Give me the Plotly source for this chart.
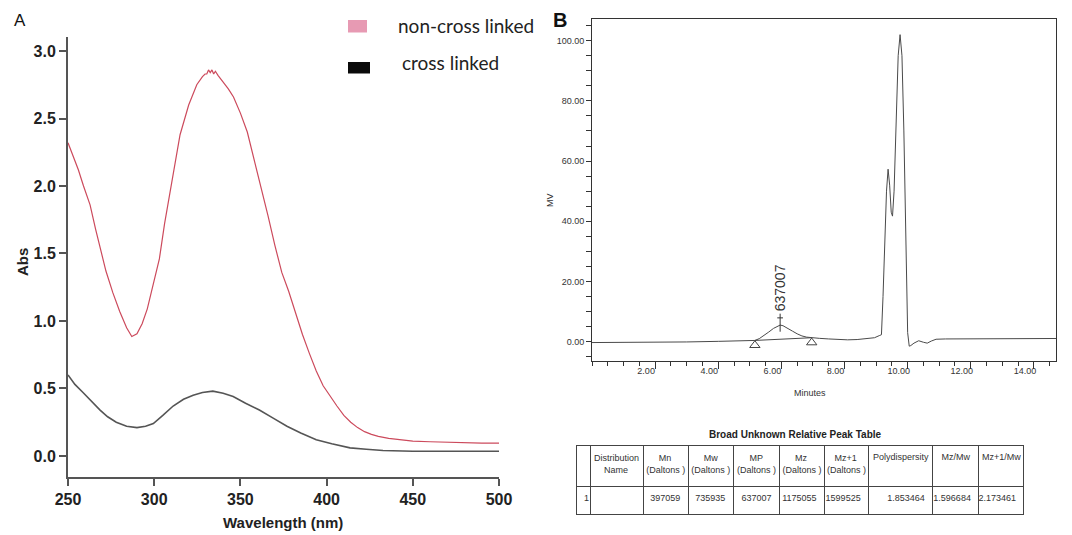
import plotly.graph_objects as go

W, H = 1072, 535

# ---------------- Panel A data (UV-Vis) ----------------
wl_noncross = [250, 253, 256, 259, 262.8, 266, 268.6, 272, 276, 280, 284, 287, 290, 293, 296, 300,
               303, 306, 310, 315, 320, 324.7, 328, 329.5, 330.5, 331.5, 332.5, 333.5, 334.5, 335.5,
               337, 340, 343, 346, 350, 354, 358, 362, 366, 370, 374, 378, 382, 386, 390, 394, 398,
               402, 406, 410, 414, 418, 422, 426, 430, 436, 442, 450, 460, 470, 480, 490, 500]
abs_noncross = [2.32, 2.22, 2.12, 2.00, 1.86, 1.68, 1.55, 1.37, 1.21, 1.07, 0.95, 0.885, 0.905, 0.98,
                1.09, 1.30, 1.46, 1.72, 2.00, 2.38, 2.60, 2.75, 2.81, 2.83, 2.83, 2.86, 2.84, 2.86,
                2.83, 2.85, 2.82, 2.77, 2.72, 2.66, 2.54, 2.40, 2.20, 2.00, 1.78, 1.56, 1.36, 1.22,
                1.06, 0.90, 0.76, 0.63, 0.52, 0.44, 0.37, 0.30, 0.25, 0.21, 0.18, 0.16, 0.145,
                0.13, 0.12, 0.11, 0.105, 0.10, 0.10, 0.095, 0.095]

wl_cross = [250, 254, 258.7, 263, 268.6, 273, 278, 284, 290, 295, 299.5, 305, 311, 317, 322.6, 328,
            334, 340, 345.8, 353, 361, 369, 377, 385, 394, 403, 413.6, 423, 432.7, 450, 475, 500]
abs_cross = [0.60, 0.53, 0.47, 0.41, 0.34, 0.29, 0.25, 0.22, 0.21, 0.22, 0.24, 0.30, 0.37, 0.42,
             0.45, 0.47, 0.48, 0.465, 0.44, 0.39, 0.34, 0.28, 0.22, 0.17, 0.12, 0.09, 0.06, 0.05,
             0.04, 0.035, 0.035, 0.035]

series_names = ["non-cross linked", "cross linked"]
a_yticks = [0.0, 0.5, 1.0, 1.5, 2.0, 2.5, 3.0]
a_xticks = [250, 300, 350, 400, 450, 500]

# ---------------- Panel B data (GPC chromatogram) ----------------
minutes = [0.0, 1.0, 2.0, 3.0, 4.0, 4.5, 5.0, 5.16, 5.3, 5.45, 5.6, 5.75, 5.88, 5.96, 6.05, 6.2,
           6.35, 6.5, 6.65, 6.8, 6.96, 7.2, 7.5, 7.8, 8.1, 8.4, 8.7, 8.95, 9.1, 9.17, 9.22, 9.28,
           9.33, 9.38, 9.43, 9.48, 9.52, 9.57, 9.63, 9.7, 9.76, 9.82, 9.88, 9.93, 9.97, 10.0,
           10.05, 10.1, 10.2, 10.35, 10.5, 10.62, 10.75, 10.9, 11.2, 12.0, 13.0, 14.0, 14.7]
mv = [-0.3, -0.3, -0.2, -0.1, 0.1, 0.2, 0.3, 0.4, 1.0, 2.0, 3.2, 4.4, 5.2, 5.5, 5.3, 4.5,
      3.5, 2.6, 1.9, 1.5, 1.3, 1.1, 0.9, 0.7, 0.6, 0.7, 0.9, 1.3, 2.0, 2.3, 15.0, 35.0,
      50.0, 57.3, 52.0, 43.0, 41.7, 50.0, 75.0, 95.0, 102.0, 95.0, 70.0, 40.0, 15.0, 3.0,
      -1.5, -1.3, -0.5, 0.3, -0.2, -0.5, 0.2, 0.8, 0.9, 0.9, 1.0, 1.0, 1.05]

peak_bounds_t = [5.16, 6.96]
peak_bounds_v = [0.4, 1.3]
peak_apex_t = 5.96
peak_apex_v = 5.5
peak_label = "637007"
b_yticks = [0, 20, 40, 60, 80, 100]
b_xticks = [2, 4, 6, 8, 10, 12, 14]

# ---------------- Table data ----------------
table_title = "Broad Unknown Relative Peak Table"
table_header_top = ["", "Distribution", "Mn", "Mw", "MP", "Mz", "Mz+1",
                    "Polydispersity", "Mz/Mw", "Mz+1/Mw"]
table_header_bottom = ["", "Name", "(Daltons )", "(Daltons )", "(Daltons )", "(Daltons )",
                       "(Daltons )", "", "", ""]
table_row = ["1", "", "397059", "735935", "637007", "1175055", "1599525",
             "1.853464", "1.596684", "2.173461"]

SANS = "Liberation Sans, Arial, sans-serif"
LEG = "Lato, Open Sans, sans-serif"
NB = "\u00a0"
# left padding (in no-break spaces) to visually centre the short first line over the second
header_pad = [0, 0, 5, 5, 5, 5, 3, 0, 0, 0]


def px(x):
    return x / W


def py(y):
    return 1 - y / H


header_text = []
for top, bottom, pad in zip(table_header_top, table_header_bottom, header_pad):
    if bottom and top:
        first = NB * pad + top if len(top) < len(bottom) else top
        second = NB * 4 + bottom if len(bottom) < len(top) else bottom
        header_text.append(first + "<br>" + second)
    else:
        header_text.append(top)

fig = go.Figure()

# Panel A traces
fig.add_trace(go.Scatter(x=wl_noncross, y=abs_noncross, mode="lines", name=series_names[0],
                         line=dict(color="#cc4a5c", width=1.2), xaxis="x", yaxis="y",
                         showlegend=False))
fig.add_trace(go.Scatter(x=wl_cross, y=abs_cross, mode="lines", name=series_names[1],
                         line=dict(color="#555555", width=1.6), xaxis="x", yaxis="y",
                         showlegend=False))

# Panel B traces
fig.add_trace(go.Scatter(x=minutes, y=mv, mode="lines", line=dict(color="#4a4a4a", width=1),
                         xaxis="x2", yaxis="y2", showlegend=False))
fig.add_trace(go.Scatter(x=peak_bounds_t, y=peak_bounds_v, mode="lines",
                         line=dict(color="#4a4a4a", width=1), xaxis="x2", yaxis="y2",
                         showlegend=False))
fig.add_trace(go.Scatter(x=peak_bounds_t, y=[v - 1.6 for v in peak_bounds_v], mode="markers",
                         marker=dict(symbol="triangle-up-open", size=9, color="#444",
                                     line=dict(width=1)),
                         xaxis="x2", yaxis="y2", showlegend=False))
fig.add_trace(go.Scatter(x=[peak_apex_t, peak_apex_t], y=[peak_apex_v - 2.2, peak_apex_v + 3.8],
                         mode="lines", line=dict(color="#333", width=1), xaxis="x2", yaxis="y2",
                         showlegend=False))

# Table
fig.add_trace(go.Table(
    domain=dict(x=[px(576), px(1024)], y=[py(516), py(445)]),
    columnwidth=[14, 53, 45, 45, 46, 45, 44, 64, 46, 45],
    header=dict(values=header_text, height=41,
                align=["left"] + ["center"] * 9,
                line=dict(color="#444", width=1), fill=dict(color="white"),
                font=dict(family=SANS, size=9, color="#333")),
    cells=dict(values=[[v] for v in table_row], height=28,
               align=["left", "left"] + ["right"] * 8,
               line=dict(color="#444", width=1), fill=dict(color="white"),
               font=dict(family=SANS, size=9, color="#333")),
))

annotations = [
    dict(text="A", x=px(20), y=py(20), xref="paper", yref="paper", showarrow=False,
         font=dict(family=SANS, size=17, color="#111"), xanchor="center", yanchor="middle"),
    dict(text="<b>B</b>", x=px(560), y=py(20), xref="paper", yref="paper", showarrow=False,
         font=dict(family=SANS, size=20, color="#111"), xanchor="center", yanchor="middle"),
    dict(text="<b>Abs</b>", x=px(22), y=py(262), xref="paper", yref="paper", showarrow=False,
         textangle=-90, font=dict(family=SANS, size=15, color="#222"),
         xanchor="center", yanchor="middle"),
    dict(text="<b>Wavelength (nm)</b>", x=px(283), y=py(522), xref="paper", yref="paper",
         showarrow=False, font=dict(family=SANS, size=15, color="#222"),
         xanchor="center", yanchor="middle"),
    dict(text=series_names[0], x=px(396), y=py(25), xref="paper", yref="paper", showarrow=False,
         font=dict(family=LEG, size=19, color="#222"), xanchor="left", yanchor="middle"),
    dict(text=series_names[1], x=px(400), y=py(63), xref="paper", yref="paper", showarrow=False,
         font=dict(family=LEG, size=19, color="#222"), xanchor="left", yanchor="middle"),
    dict(text="MV", x=px(550), y=py(200), xref="paper", yref="paper", showarrow=False,
         textangle=-90, font=dict(family=SANS, size=9, color="#333"),
         xanchor="center", yanchor="middle"),
    dict(text="Minutes", x=px(810), y=py(393), xref="paper", yref="paper", showarrow=False,
         font=dict(family=SANS, size=9, color="#333"), xanchor="center", yanchor="middle"),
    dict(text=peak_label, x=peak_apex_t, y=peak_apex_v + 3.8, xref="x2", yref="y2",
         showarrow=False, textangle=-90, font=dict(family=SANS, size=14, color="#333"),
         xanchor="center", yanchor="bottom"),
    dict(text="<b>" + table_title + "</b>", x=px(795), y=py(434), xref="paper", yref="paper",
         showarrow=False, font=dict(family=SANS, size=10, color="#222"),
         xanchor="center", yanchor="middle"),
]

shapes = [
    dict(type="rect", xref="paper", yref="paper", x0=px(348), x1=px(367), y0=py(32.5), y1=py(20),
         fillcolor="#e79ab3", line=dict(width=0)),
    dict(type="rect", xref="paper", yref="paper", x0=px(348), x1=px(370), y0=py(73.5), y1=py(62),
         fillcolor="#0a0a0a", line=dict(width=0)),
    dict(type="line", xref="x2", yref="y2", x0=peak_apex_t - 0.09, x1=peak_apex_t + 0.09,
         y0=peak_apex_v + 2.4, y1=peak_apex_v + 2.4, line=dict(color="#333", width=1)),
]

fig.update_layout(
    width=W, height=H, margin=dict(l=0, r=0, t=0, b=0, autoexpand=False),
    paper_bgcolor="white", plot_bgcolor="white",
    annotations=annotations, shapes=shapes,
    xaxis=dict(domain=[px(68), px(499)], range=[250, 500], anchor="y", automargin=False,
               tickvals=a_xticks, ticks="outside", ticklen=7, tickwidth=2, tickcolor="#555",
               showline=True, linecolor="#555", linewidth=2, showgrid=False, zeroline=False,
               tickfont=dict(family=SANS, size=16, color="#222", weight="bold")),
    yaxis=dict(domain=[py(477), py(37)], range=[-0.156, 3.104], anchor="x", automargin=False,
               tickvals=a_yticks, tickformat=".1f", ticks="outside", ticklen=7, tickwidth=2,
               tickcolor="#555", showline=True, linecolor="#555", linewidth=2,
               showgrid=False, zeroline=False,
               tickfont=dict(family=SANS, size=16, color="#222", weight="bold")),
    xaxis2=dict(domain=[px(592), px(1056)], range=[0, 14.7], anchor="y2", automargin=False,
                tickvals=b_xticks, tickformat=".2f", ticks="outside", ticklen=7, tickwidth=1,
                tickcolor="#333", minor=dict(dtick=0.5, ticklen=4, ticks="outside",
                                             tickcolor="#333", tick0=0),
                ticklabelshift=-9, ticklabelstandoff=-6,
                showline=True, mirror=True, linecolor="#333", linewidth=1,
                showgrid=False, zeroline=False,
                tickfont=dict(family=SANS, size=9, color="#333")),
    yaxis2=dict(domain=[py(361), py(19)], range=[-6.43, 107.2], anchor="x2", automargin=False,
                tickvals=b_yticks, tickformat=".2f", ticks="outside", ticklen=5, tickwidth=1,
                tickcolor="#333", minor=dict(dtick=5, ticklen=5, ticks="outside",
                                             tickcolor="#333", tick0=0),
                showline=True, mirror=True, linecolor="#333", linewidth=1,
                showgrid=False, zeroline=False,
                tickfont=dict(family=SANS, size=9, color="#333")),
)

fig.write_html("out.html", config={"displayModeBar": False},
               post_script="document.body.style.margin='0px';document.body.style.overflow='hidden';")
